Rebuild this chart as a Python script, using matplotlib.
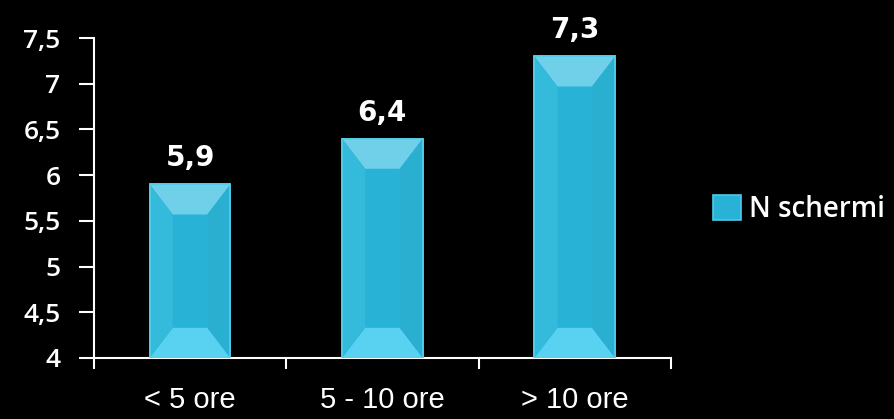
import matplotlib.pyplot as plt
from matplotlib.patches import Polygon

categorie = ['< 5 ore', '5 - 10 ore', '> 10 ore']
n_schermi = [5.9, 6.4, 7.3]
etichette = ['5,9', '6,4', '7,3']
yticks = [4, 4.5, 5, 5.5, 6, 6.5, 7, 7.5]
ytick_lab = ['4', '4,5', '5', '5,5', '6', '6,5', '7', '7,5']

fig = plt.figure(figsize=(8.94, 4.19), dpi=100, facecolor='black')
ax = fig.add_axes([0.105, 0.1456, 0.6455, 0.7637], facecolor='black')

x = range(len(categorie))
larg = 0.42
bars = ax.bar(x, n_schermi, width=larg, bottom=0, color='#28b3d6',
              edgecolor='#4ccbe8', linewidth=1.2, label='N schermi', zorder=2)

# effetto smussato (bevel) sulle barre
dx = 0.12
dy = 0.33
base = 4
for xi, v in zip(x, n_schermi):
    l, r = xi - larg / 2, xi + larg / 2
    top = [(l, v), (r, v), (r - dx, v - dy), (l + dx, v - dy)]
    bot = [(l, base), (r, base), (r - dx, base + dy), (l + dx, base + dy)]
    sx = [(l, v), (l + dx, v - dy), (l + dx, base + dy), (l, base)]
    dxs = [(r, v), (r - dx, v - dy), (r - dx, base + dy), (r, base)]
    ax.add_patch(Polygon(top, closed=True, color='#70d0ea', lw=0, zorder=3))
    ax.add_patch(Polygon(bot, closed=True, color='#58d2f0', lw=0, zorder=3))
    ax.add_patch(Polygon(sx, closed=True, color='#34bbdc', lw=0, zorder=3))
    ax.add_patch(Polygon(dxs, closed=True, color='#2aafd1', lw=0, zorder=3))
    ax.add_patch(plt.Rectangle((l, base), larg, v - base, fill=False,
                               ec='#55cfea', lw=1.2, zorder=4))

for xi, v, t in zip(x, n_schermi, etichette):
    ax.annotate(t, (xi, v), xytext=(0, 13), textcoords='offset points',
                ha='center', va='baseline', color='white', fontsize=20,
                fontweight='bold', family='DejaVu Sans')

ax.set_ylim(4, 7.5)
ax.set_xlim(-0.5, 2.5)
ax.set_yticks(yticks)
ax.set_yticklabels(ytick_lab, fontsize=19, fontweight='semibold',
                   family='Open Sans', color='white')
ax.set_xticks([-0.5, 0.5, 1.5, 2.5], minor=False)
ax.set_xticklabels([])
ax.set_xticks(list(x), minor=True)
ax.set_xticklabels(categorie, minor=True, fontsize=21,
                   family='Liberation Sans', color='white')
ax.tick_params(axis='x', which='minor', length=0, pad=20)
ax.tick_params(axis='x', which='major', length=8, width=1.5, color='white',
               direction='out')
ax.tick_params(axis='y', length=11, width=1.5, color='white', direction='out',
               pad=13)
for s in ['top', 'right']:
    ax.spines[s].set_visible(False)
for s in ['left', 'bottom']:
    ax.spines[s].set_color('white')
    ax.spines[s].set_linewidth(1.5)

leg = ax.legend(handles=[bars], loc='center left', bbox_to_anchor=(0.77, 0.5),
                bbox_transform=fig.transFigure, frameon=False, handlelength=1.0,
                handleheight=1.0, handletextpad=0.3,
                prop={'family': 'Open Sans', 'weight': 'semibold', 'size': 20})
for t in leg.get_texts():
    t.set_color('white')

fig.savefig('out.png', dpi=100, facecolor='black')
